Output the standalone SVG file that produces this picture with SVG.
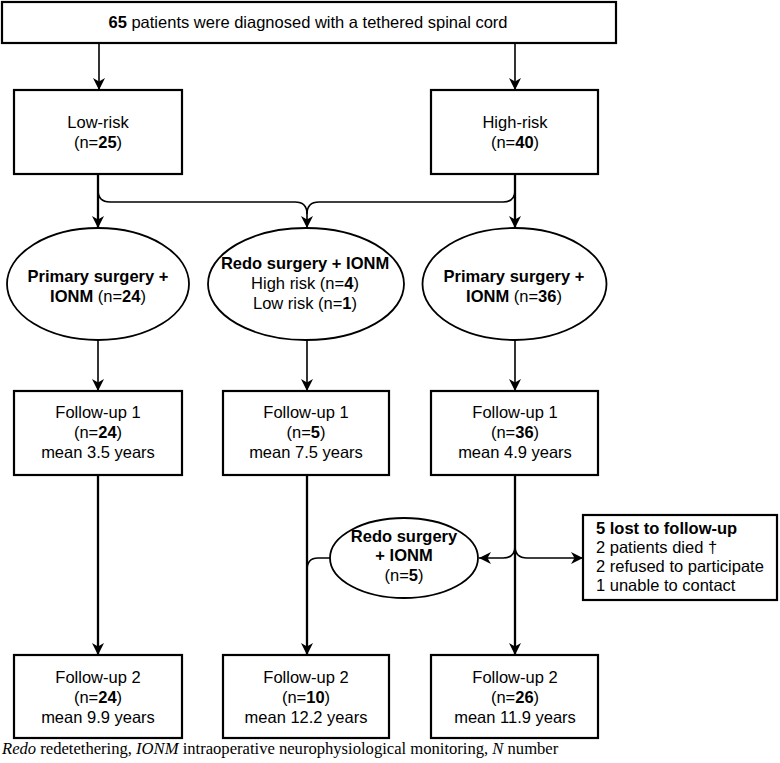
<svg xmlns="http://www.w3.org/2000/svg" width="780" height="763" viewBox="0 0 780 763">
<style>
.box{fill:#fff;stroke:#000;stroke-width:2.2}
.ell{fill:#fff;stroke:#000;stroke-width:1.8}
.t{font-family:"Liberation Sans",Arial,sans-serif;font-size:16.5px;fill:#000;text-anchor:middle}
.tl{font-family:"Liberation Sans",Arial,sans-serif;font-size:16.5px;fill:#000}
.b{font-weight:bold}
.c{fill:none;stroke:#000;stroke-width:1.6}
.ck{fill:none;stroke:#000;stroke-width:2.3}
.cap{font-family:"Liberation Serif","Times New Roman",serif;font-size:16.6px;fill:#000}
.i{font-style:italic}
</style>
<defs>
<marker id="ah" viewBox="0 0 12 12" refX="12" refY="6" markerWidth="12" markerHeight="12" markerUnits="userSpaceOnUse" orient="auto">
<path d="M0,0 L12,6 L0,12 L3.5,6 z" fill="#000"/>
</marker>
</defs>
<g id="connectors">
<path class="c" d="M99,43 L99,90" marker-end="url(#ah)"/>
<path class="c" d="M515,43 L515,90" marker-end="url(#ah)"/>
<path class="ck" d="M98,174 L98,228" marker-end="url(#ah)"/>
<path class="ck" d="M515,174 L515,228" marker-end="url(#ah)"/>
<path class="c" d="M98,190 Q98,202 110,202 L295,202 Q307,202 307,214 L307,228" marker-end="url(#ah)"/>
<path class="c" d="M515,190 Q515,202 503,202 L319,202 Q307,202 307,214"/>
<path class="c" d="M98,340 L98,391" marker-end="url(#ah)"/>
<path class="c" d="M307,340 L307,391" marker-end="url(#ah)"/>
<path class="c" d="M515,340 L515,391" marker-end="url(#ah)"/>
<path class="ck" d="M98,475 L98,655" marker-end="url(#ah)"/>
<path class="ck" d="M307,475 L307,655" marker-end="url(#ah)"/>
<path class="ck" d="M515,475 L515,655" marker-end="url(#ah)"/>
<path class="c" d="M515,546 Q515,558 503,558 L479,558" marker-end="url(#ah)"/>
<path class="c" d="M515,546 Q515,558 527,558 L583,558" marker-end="url(#ah)"/>
<path class="c" d="M330,558 L318,558 Q307,558 307,570"/>
</g>
<g id="n-total">
<rect class="box" x="2" y="2" width="614" height="41"/>
<text class="t" x="308" y="28"><tspan class="b">65</tspan> patients were diagnosed with a tethered spinal cord</text>
</g>
<g id="n-low">
<rect class="box" x="14" y="90" width="168" height="84"/>
<text class="t" x="98" y="128">Low-risk</text>
<text class="t" x="98" y="148">(n=<tspan class="b">25</tspan>)</text>
</g>
<g id="n-high">
<rect class="box" x="431" y="90" width="167" height="84"/>
<text class="t" x="515" y="128">High-risk</text>
<text class="t" x="515" y="148">(n=<tspan class="b">40</tspan>)</text>
</g>
<g id="n-prim-low">
<ellipse class="ell" cx="98" cy="284" rx="91" ry="56"/>
<text class="t b" x="98" y="282">Primary surgery +</text>
<text class="t" x="98" y="302"><tspan class="b">IONM</tspan> (n=<tspan class="b">24</tspan>)</text>
</g>
<g id="n-redo1">
<ellipse class="ell" cx="306" cy="284" rx="98" ry="56"/>
<text class="t b" x="305" y="269">Redo surgery + IONM</text>
<text class="t" x="305" y="289">High risk (n=<tspan class="b">4</tspan>)</text>
<text class="t" x="305" y="309">Low risk (n=<tspan class="b">1</tspan>)</text>
</g>
<g id="n-prim-high">
<ellipse class="ell" cx="514.5" cy="284" rx="92" ry="56"/>
<text class="t b" x="514" y="282">Primary surgery +</text>
<text class="t" x="514" y="302"><tspan class="b">IONM</tspan> (n=<tspan class="b">36</tspan>)</text>
</g>
<g id="n-fu1-low">
<rect class="box" x="14" y="391" width="168" height="84"/>
<text class="t" x="98" y="418">Follow-up 1</text>
<text class="t" x="98" y="438">(n=<tspan class="b">24</tspan>)</text>
<text class="t" x="98" y="458">mean 3.5 years</text>
</g>
<g id="n-fu1-redo">
<rect class="box" x="223" y="391" width="166" height="84"/>
<text class="t" x="306" y="418">Follow-up 1</text>
<text class="t" x="306" y="438">(n=<tspan class="b">5</tspan>)</text>
<text class="t" x="306" y="458">mean 7.5 years</text>
</g>
<g id="n-fu1-high">
<rect class="box" x="431" y="391" width="167" height="84"/>
<text class="t" x="515" y="418">Follow-up 1</text>
<text class="t" x="515" y="438">(n=<tspan class="b">36</tspan>)</text>
<text class="t" x="515" y="458">mean 4.9 years</text>
</g>
<g id="n-redo2">
<ellipse class="ell" cx="404" cy="558" rx="74" ry="40"/>
<text class="t b" x="404" y="542">Redo surgery</text>
<text class="t b" x="404" y="561">+ IONM</text>
<text class="t" x="404" y="581">(n=<tspan class="b">5</tspan>)</text>
</g>
<g id="n-lost">
<rect class="box" x="583" y="515" width="194" height="85"/>
<text class="tl" x="596" y="534"><tspan class="b">5 lost to follow-up</tspan></text>
<text class="tl" x="596" y="553">2 patients died †</text>
<text class="tl" x="596" y="572">2 refused to participate</text>
<text class="tl" x="596" y="591">1 unable to contact</text>
</g>
<g id="n-fu2-low">
<rect class="box" x="14" y="655" width="168" height="83"/>
<text class="t" x="98" y="683">Follow-up 2</text>
<text class="t" x="98" y="703">(n=<tspan class="b">24</tspan>)</text>
<text class="t" x="98" y="723">mean 9.9 years</text>
</g>
<g id="n-fu2-redo">
<rect class="box" x="223" y="655" width="166" height="83"/>
<text class="t" x="306" y="683">Follow-up 2</text>
<text class="t" x="306" y="703">(n=<tspan class="b">10</tspan>)</text>
<text class="t" x="306" y="723">mean 12.2 years</text>
</g>
<g id="n-fu2-high">
<rect class="box" x="431" y="655" width="167" height="83"/>
<text class="t" x="515" y="683">Follow-up 2</text>
<text class="t" x="515" y="703">(n=<tspan class="b">26</tspan>)</text>
<text class="t" x="515" y="723">mean 11.9 years</text>
</g>
<g id="caption">
<text class="cap" x="2" y="754"><tspan class="i">Redo</tspan> redetethering, <tspan class="i">IONM</tspan> intraoperative neurophysiological monitoring, <tspan class="i">N</tspan> number</text>
</g>
</svg>
